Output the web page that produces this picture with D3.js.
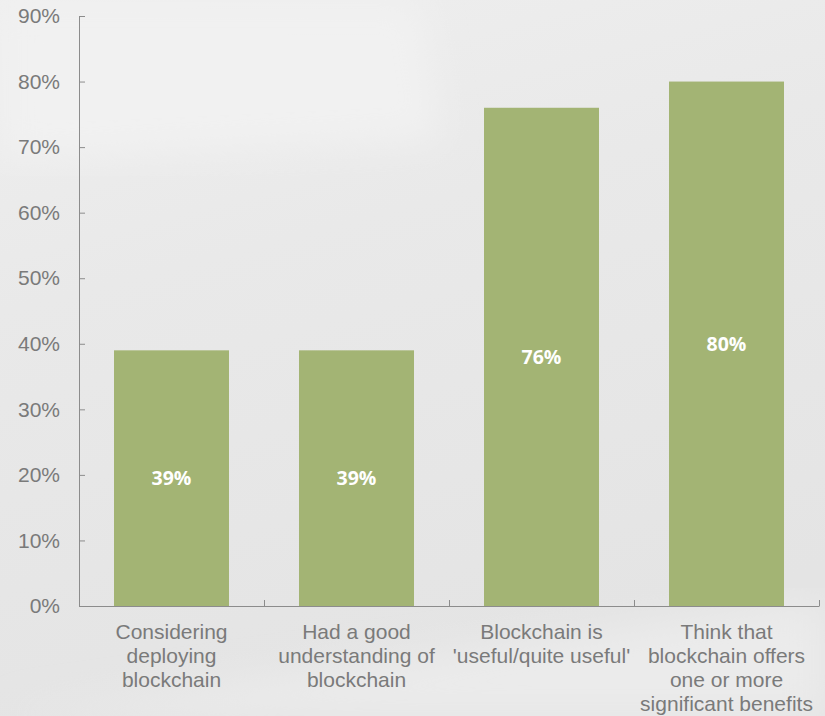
<!DOCTYPE html>
<html>
<head>
<meta charset="utf-8">
<script src="https://cdn.jsdelivr.net/npm/d3@7"></script>
<style>
  html, body { margin: 0; padding: 0; }
  body { width: 825px; height: 716px; overflow: hidden; }
  svg { display: block; }
  .axis path, .axis line { stroke: #8c8c8c; }
  .axis text { fill: #7a7a7a; font-family: "Liberation Sans", Arial, sans-serif; font-size: 21px; }
</style>
</head>
<body>
<div id="chart"></div>
<script>
// chart data
var categories = [
    ["Considering", "deploying", "blockchain"],
    ["Had a good", "understanding of", "blockchain"],
    ["Blockchain is", "'useful/quite useful'"],
    ["Think that", "blockchain offers", "one or more", "significant benefits"]
];
var values = [39, 39, 76, 80];
var yTicks = [0, 10, 20, 30, 40, 50, 60, 70, 80, 90];

var W = 825, H = 716;
var margin = { top: 16, right: 6, bottom: 110, left: 79 };
var width = W - margin.left - margin.right;
var height = H - margin.top - margin.bottom;

var svg = d3.select("#chart").append("svg")
    .attr("width", W)
    .attr("height", H);

// background: soft grey with faint lighter shapes
var defs = svg.append("defs");
var grad = defs.append("linearGradient")
    .attr("id", "bg")
    .attr("x1", 0).attr("y1", 0).attr("x2", 0.3).attr("y2", 1);
grad.append("stop").attr("offset", "0%").attr("stop-color", "#efefef");
grad.append("stop").attr("offset", "40%").attr("stop-color", "#e9e9e9");
grad.append("stop").attr("offset", "100%").attr("stop-color", "#e4e4e4");
defs.append("filter").attr("id", "soft")
    .append("feGaussianBlur").attr("stdDeviation", 18);
svg.append("rect").attr("width", W).attr("height", H).attr("fill", "url(#bg)");
svg.append("path")
    .attr("d", "M0,0 L420,0 L440,140 L0,160 Z")
    .attr("fill", "#f1f1f1")
    .attr("filter", "url(#soft)");
svg.append("path")
    .attr("d", "M0,716 C200,690 450,650 825,600 L825,716 Z")
    .attr("fill", "#ebebeb")
    .attr("filter", "url(#soft)");

var g = svg.append("g")
    .attr("transform", "translate(" + margin.left + "," + margin.top + ")");

var x = d3.scaleBand()
    .domain(d3.range(categories.length))
    .range([0, width])
    .paddingInner(70 / 185)
    .paddingOuter(35 / 185);

// band ticks sit at category boundaries
var xEdge = d3.scaleLinear().domain([0, categories.length]).range([0, width]);

var y = d3.scaleLinear().domain([0, 90]).range([height, 0]);

// bars
g.selectAll(".bar")
    .data(values)
    .enter().append("rect")
    .attr("class", "bar")
    .attr("x", function (d, i) { return x(i); })
    .attr("y", function (d) { return y(d); })
    .attr("width", x.bandwidth())
    .attr("height", function (d) { return height - y(d); })
    .attr("fill", "#a3b474");

// value labels, centered in each bar
g.selectAll(".val")
    .data(values)
    .enter().append("text")
    .attr("class", "val")
    .attr("x", function (d, i) { return x(i) + x.bandwidth() / 2; })
    .attr("y", function (d) { return (y(d) + height) / 2; })
    .attr("dy", "0.36em")
    .attr("text-anchor", "middle")
    .attr("fill", "#ffffff")
    .style("font-family", "'Open Sans', 'DejaVu Sans', sans-serif")
    .style("font-weight", "bold")
    .style("font-size", "19.5px")
    .text(function (d) { return d + "%"; });

// y axis
var yAxis = g.append("g")
    .attr("class", "axis y")
    .call(d3.axisRight(y).tickValues(yTicks).tickSize(6).tickSizeOuter(0)
        .tickFormat(function (d) { return d + "%"; }));
yAxis.selectAll("text")
    .attr("x", -19)
    .attr("text-anchor", "end");

// x axis
var xAxis = g.append("g")
    .attr("class", "axis x")
    .attr("transform", "translate(0," + height + ")")
    .call(d3.axisTop(xEdge).ticks(categories.length).tickSize(6).tickSizeOuter(0)
        .tickFormat(""));

// category labels
var labels = g.selectAll(".cat")
    .data(categories)
    .enter().append("text")
    .attr("class", "cat")
    .attr("text-anchor", "middle")
    .attr("fill", "#7a7a7a")
    .style("font-family", "'Liberation Sans', Arial, sans-serif")
    .style("font-size", "21px")
    .attr("transform", function (d, i) {
        return "translate(" + (x(i) + x.bandwidth() / 2) + "," + (height + 33) + ")";
    });
labels.selectAll("tspan")
    .data(function (d) { return d; })
    .enter().append("tspan")
    .attr("x", 0)
    .attr("y", function (d, i) { return i * 24; })
    .text(function (d) { return d; });
</script>
</body>
</html>
